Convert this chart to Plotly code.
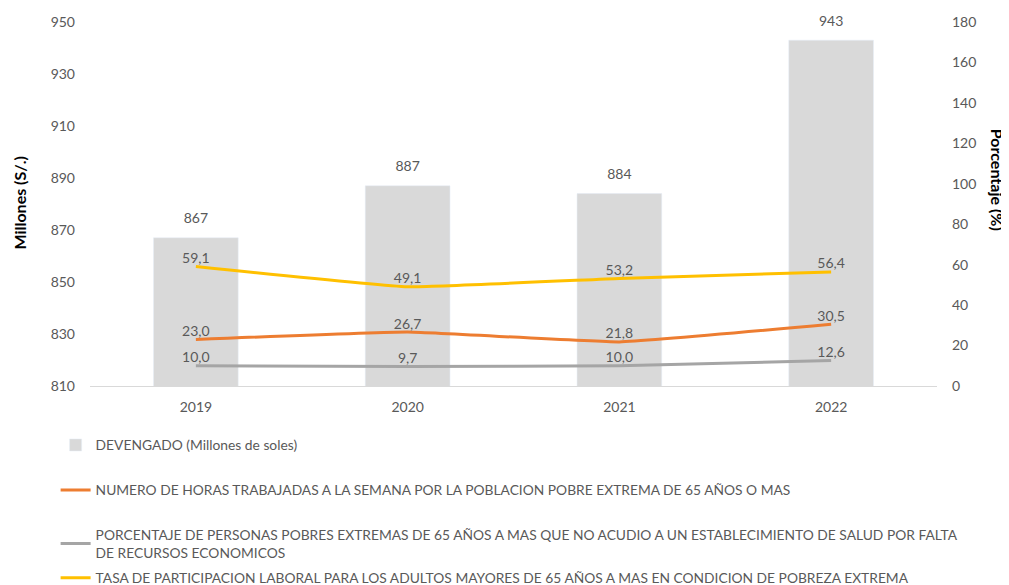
import plotly.graph_objects as go

years = ["2019", "2020", "2021", "2022"]
devengado = [867, 887, 884, 943]
horas = [23.0, 26.7, 21.8, 30.5]
porc_salud = [10.0, 9.7, 10.0, 12.6]
tasa_part = [59.1, 49.1, 53.2, 56.4]

left_ticks = [810, 830, 850, 870, 890, 910, 930, 950]
right_ticks = [0, 20, 40, 60, 80, 100, 120, 140, 160, 180]

name_bar = "DEVENGADO (Millones de soles)"
name_horas = "NUMERO DE HORAS TRABAJADAS A LA SEMANA POR LA POBLACION POBRE EXTREMA DE 65 AÑOS O MAS"
name_salud = ("PORCENTAJE DE PERSONAS POBRES EXTREMAS DE 65 AÑOS A MAS QUE NO ACUDIO A UN ESTABLECIMIENTO DE SALUD POR FALTA"
              "<br>DE RECURSOS ECONOMICOS")
name_tasa = "TASA DE PARTICIPACION LABORAL PARA LOS ADULTOS MAYORES DE 65 AÑOS A MAS EN CONDICION DE POBREZA EXTREMA"

FONT = "Lato, 'Open Sans', 'Liberation Sans', sans-serif"
TXT = "#595959"

fig = go.Figure()
fig.add_trace(go.Bar(
    x=years, y=devengado, name=name_bar, marker_color="#d9d9d9",
    width=0.4, yaxis="y", legend="legend", hoverinfo="skip",
))
fig.add_trace(go.Scatter(
    x=years, y=devengado, mode="markers+text", marker=dict(size=16, opacity=0),
    text=[f"{v:.0f}" for v in devengado], textposition="top center",
    textfont=dict(size=14, color=TXT, family=FONT), showlegend=False,
    yaxis="y", cliponaxis=False, hoverinfo="skip",
))

line_specs = [
    (horas, name_horas, "#ed7d31", "legend2"),
    (porc_salud, name_salud, "#a5a5a5", "legend3"),
    (tasa_part, name_tasa, "#ffc000", "legend4"),
]
for vals, nm, col, lg in line_specs:
    fig.add_trace(go.Scatter(
        x=years, y=vals, name=nm, mode="lines+text",
        line=dict(color=col, width=3, shape="spline", smoothing=0.3),
        texttemplate="%{y:.1f}", textposition="top center",
        textfont=dict(size=14, color=TXT, family=FONT),
        yaxis="y2", legend=lg, cliponaxis=False, hoverinfo="skip",
    ))

def leg(y):
    return dict(x=-0.0406, y=y, xanchor="left", yanchor="middle",
                font=dict(size=13.8, color=TXT, family=FONT),
                bgcolor="rgba(0,0,0,0)", itemwidth=30)

fig.update_layout(
    width=1009, height=585,
    margin=dict(l=82, r=80, t=14, b=207, autoexpand=False),
    paper_bgcolor="white", plot_bgcolor="white",
    separators=",.",
    font=dict(family=FONT, color=TXT, size=14),
    bargap=0.6,
    xaxis=dict(showgrid=False, showline=True, linecolor="#d9d9d9", linewidth=1,
               ticks="", tickfont=dict(size=14, color=TXT), ticklabelstandoff=8),
    yaxis=dict(range=[810, 950], tickvals=left_ticks, showgrid=False, zeroline=False,
               showline=False, ticks="", tickfont=dict(size=14, color=TXT),
               ticklabelstandoff=14),
    yaxis2=dict(range=[0, 180], tickvals=right_ticks, overlaying="y", side="right",
                showgrid=False, zeroline=False, showline=False, ticks="",
                tickfont=dict(size=14, color=TXT), ticklabelstandoff=14),
    legend=leg(-0.162),
    legend2=leg(-0.286),
    legend3=leg(-0.433),
    legend4=leg(-0.527),
    annotations=[
        dict(text="<b>Millones (S/.)</b>", xref="paper", yref="paper", x=-0.083, y=0.503,
             xanchor="center", yanchor="middle", textangle=-90, showarrow=False,
             font=dict(size=16, color="black", family=FONT)),
        dict(text="<b>Porcentaje (%)</b>", xref="paper", yref="paper", x=1.071, y=0.566,
             xanchor="center", yanchor="middle", textangle=90, showarrow=False,
             font=dict(size=16, color="black", family=FONT)),
    ],
)

fig.write_html("out.html")
